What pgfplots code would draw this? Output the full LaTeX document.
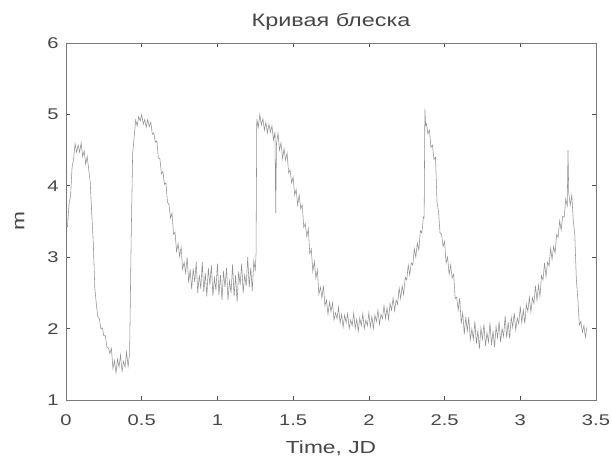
\documentclass[border=0pt]{standalone}
\usepackage{fontspec}
\setmainfont{Liberation Sans}[FakeStretch=1.3]
\usepackage{pgfplots}
\usepackage{pgfplotstable}
\pgfplotsset{compat=1.18}
\definecolor{txt}{RGB}{70,70,70}
\definecolor{curve}{RGB}{145,145,145}
\definecolor{frame}{RGB}{120,120,120}
\pgfplotstableread{
x y
0.00 3.45
0.01 3.43
0.02 3.74
0.03 3.85
0.04 4.26
0.05 4.37
0.06 4.59
0.07 4.47
0.08 4.57
0.09 4.47
0.10 4.60
0.11 4.41
0.12 4.49
0.13 4.30
0.14 4.41
0.15 4.23
0.16 4.05
0.17 3.61
0.18 3.21
0.19 2.58
0.20 2.35
0.21 2.17
0.22 2.14
0.23 2.00
0.24 2.01
0.25 1.90
0.26 1.90
0.27 1.74
0.28 1.73
0.29 1.65
0.30 1.72
0.31 1.44
0.32 1.55
0.33 1.38
0.34 1.57
0.35 1.46
0.36 1.63
0.37 1.40
0.38 1.54
0.39 1.46
0.40 1.67
0.41 1.47
0.42 1.65
0.43 3.20
0.44 4.45
0.45 4.68
0.46 4.92
0.47 4.84
0.48 4.97
0.49 4.91
0.50 5.00
0.51 4.86
0.52 4.93
0.53 4.82
0.54 4.93
0.55 4.83
0.56 4.89
0.57 4.72
0.58 4.74
0.59 4.61
0.60 4.63
0.61 4.39
0.62 4.38
0.63 4.17
0.64 4.20
0.65 4.02
0.66 4.04
0.67 3.77
0.68 3.74
0.69 3.55
0.70 3.62
0.71 3.32
0.72 3.35
0.73 3.08
0.74 3.19
0.75 3.01
0.76 3.14
0.77 2.83
0.78 2.93
0.79 2.78
0.80 3.00
0.81 2.64
0.82 2.83
0.83 2.55
0.84 2.84
0.85 2.65
0.86 2.93
0.87 2.50
0.88 2.75
0.89 2.56
0.90 2.93
0.91 2.51
0.92 2.78
0.93 2.45
0.94 2.85
0.95 2.61
0.96 2.89
0.97 2.46
0.98 2.71
0.99 2.54
1.00 2.91
1.01 2.47
1.02 2.75
1.03 2.40
1.04 2.80
1.05 2.58
1.06 2.85
1.07 2.40
1.08 2.67
1.09 2.50
1.10 2.90
1.11 2.45
1.12 2.75
1.13 2.37
1.14 2.80
1.15 2.61
1.16 2.91
1.17 2.50
1.18 2.75
1.19 2.60
1.20 3.00
1.21 2.58
1.22 2.85
1.23 2.53
1.24 2.95
1.25 2.81
1.255 3.05
1.26 4.94
1.27 4.82
1.28 5.00
1.29 4.85
1.30 4.94
1.31 4.78
1.32 4.89
1.33 4.74
1.34 4.86
1.35 4.75
1.36 4.84
1.37 4.64
1.38 4.75
1.385 3.62
1.39 4.59
1.40 4.74
1.41 4.50
1.42 4.60
1.43 4.38
1.44 4.52
1.45 4.36
1.46 4.46
1.47 4.18
1.48 4.22
1.49 4.04
1.50 4.12
1.51 3.87
1.52 3.95
1.53 3.73
1.54 3.87
1.55 3.68
1.56 3.73
1.57 3.42
1.58 3.47
1.59 3.29
1.60 3.40
1.61 3.05
1.62 3.11
1.63 2.80
1.64 2.94
1.65 2.71
1.66 2.82
1.67 2.48
1.68 2.58
1.69 2.43
1.70 2.60
1.71 2.32
1.72 2.40
1.73 2.20
1.74 2.37
1.75 2.24
1.76 2.36
1.77 2.12
1.78 2.22
1.79 2.14
1.80 2.30
1.81 2.08
1.82 2.20
1.83 2.02
1.84 2.19
1.85 2.08
1.86 2.21
1.87 2.00
1.88 2.12
1.89 2.04
1.90 2.22
1.91 2.00
1.92 2.13
1.93 1.96
1.94 2.15
1.95 2.04
1.96 2.21
1.97 2.00
1.98 2.12
1.99 2.04
2.00 2.22
2.01 2.02
2.02 2.17
2.03 2.00
2.04 2.19
2.05 2.10
2.06 2.26
2.07 2.06
2.08 2.20
2.09 2.14
2.10 2.32
2.11 2.14
2.12 2.29
2.13 2.13
2.14 2.35
2.15 2.26
2.16 2.43
2.17 2.25
2.18 2.40
2.19 2.34
2.20 2.57
2.21 2.42
2.22 2.60
2.23 2.48
2.24 2.72
2.25 2.68
2.26 2.89
2.27 2.75
2.28 2.92
2.29 2.89
2.30 3.12
2.31 3.00
2.32 3.20
2.33 3.10
2.34 3.37
2.35 3.34
2.36 3.56
2.365 3.55
2.37 5.08
2.375 4.85
2.38 4.87
2.39 4.73
2.40 4.78
2.41 4.54
2.42 4.57
2.43 4.37
2.44 4.40
2.45 3.77
2.46 3.64
2.47 3.34
2.48 3.32
2.49 3.15
2.50 3.22
2.51 2.92
2.52 3.00
2.53 2.76
2.54 2.89
2.55 2.71
2.56 2.76
2.57 2.42
2.58 2.44
2.59 2.26
2.60 2.43
2.61 2.07
2.62 2.22
2.63 1.92
2.64 2.16
2.65 1.97
2.66 2.16
2.67 1.84
2.68 1.99
2.69 1.85
2.70 2.10
2.71 1.79
2.72 1.97
2.73 1.72
2.74 2.01
2.75 1.85
2.76 2.06
2.77 1.76
2.78 1.94
2.79 1.81
2.80 2.08
2.81 1.77
2.82 1.97
2.83 1.74
2.84 2.03
2.85 1.87
2.86 2.10
2.87 1.81
2.88 2.00
2.89 1.89
2.90 2.18
2.91 1.87
2.92 2.09
2.93 1.86
2.94 2.16
2.95 2.02
2.96 2.22
2.97 1.98
2.98 2.15
2.99 2.07
3.00 2.31
3.01 2.08
3.02 2.26
3.03 2.07
3.04 2.34
3.05 2.24
3.06 2.44
3.07 2.23
3.08 2.43
3.09 2.35
3.10 2.60
3.11 2.40
3.12 2.61
3.13 2.45
3.14 2.74
3.15 2.68
3.16 2.92
3.17 2.73
3.18 2.93
3.19 2.88
3.20 3.12
3.21 2.97
3.22 3.15
3.23 3.06
3.24 3.32
3.25 3.28
3.26 3.51
3.27 3.38
3.28 3.57
3.29 3.56
3.30 3.82
3.31 3.72
3.315 4.50
3.32 3.90
3.33 3.73
3.34 3.87
3.35 3.51
3.36 3.31
3.37 2.70
3.38 2.42
3.39 2.05
3.40 2.10
3.41 1.95
3.42 2.04
3.43 1.88
3.44 2.02
}\lc
\begin{document}
\begin{tikzpicture}
\begin{axis}[
  at={(0,0)}, anchor=south west,
  scale only axis,
  width=530bp, height=357bp,
  xmin=0, xmax=3.5, ymin=1, ymax=6,
  xtick={0,0.5,1,1.5,2,2.5,3,3.5},
  xticklabels={0,0.5,1,1.5,2,2.5,3,3.5},
  ytick={1,2,3,4,5,6},
  /pgf/number format/assume math mode=true,
  tick align=inside,
  tick pos=both,
  major tick length=4bp,
  axis line style={frame, line width=0.6bp},
  every tick/.style={black!70, line width=0.6bp},
  tick label style={text=txt, font=\fontsize{15.5bp}{18bp}\selectfont},
  xticklabel style={yshift=-11bp},
  yticklabel style={xshift=-4bp},
  title={Кривая блеска},
  title style={text=txt, font=\fontsize{18bp}{21bp}\selectfont, yshift=3bp},
  xlabel={Time, JD},
  ylabel={m},
  label style={text=txt, font=\fontsize{17.5bp}{20bp}\selectfont},
  xlabel style={yshift=-8bp},
  ylabel style={yshift=16bp},
]
\addplot[curve, line width=0.55bp] table[x=x, y=y] {\lc};
\end{axis}
\pgfresetboundingbox
\path[use as bounding box] (-66bp,-57bp) rectangle (546bp,400bp);
\end{tikzpicture}
\end{document}
